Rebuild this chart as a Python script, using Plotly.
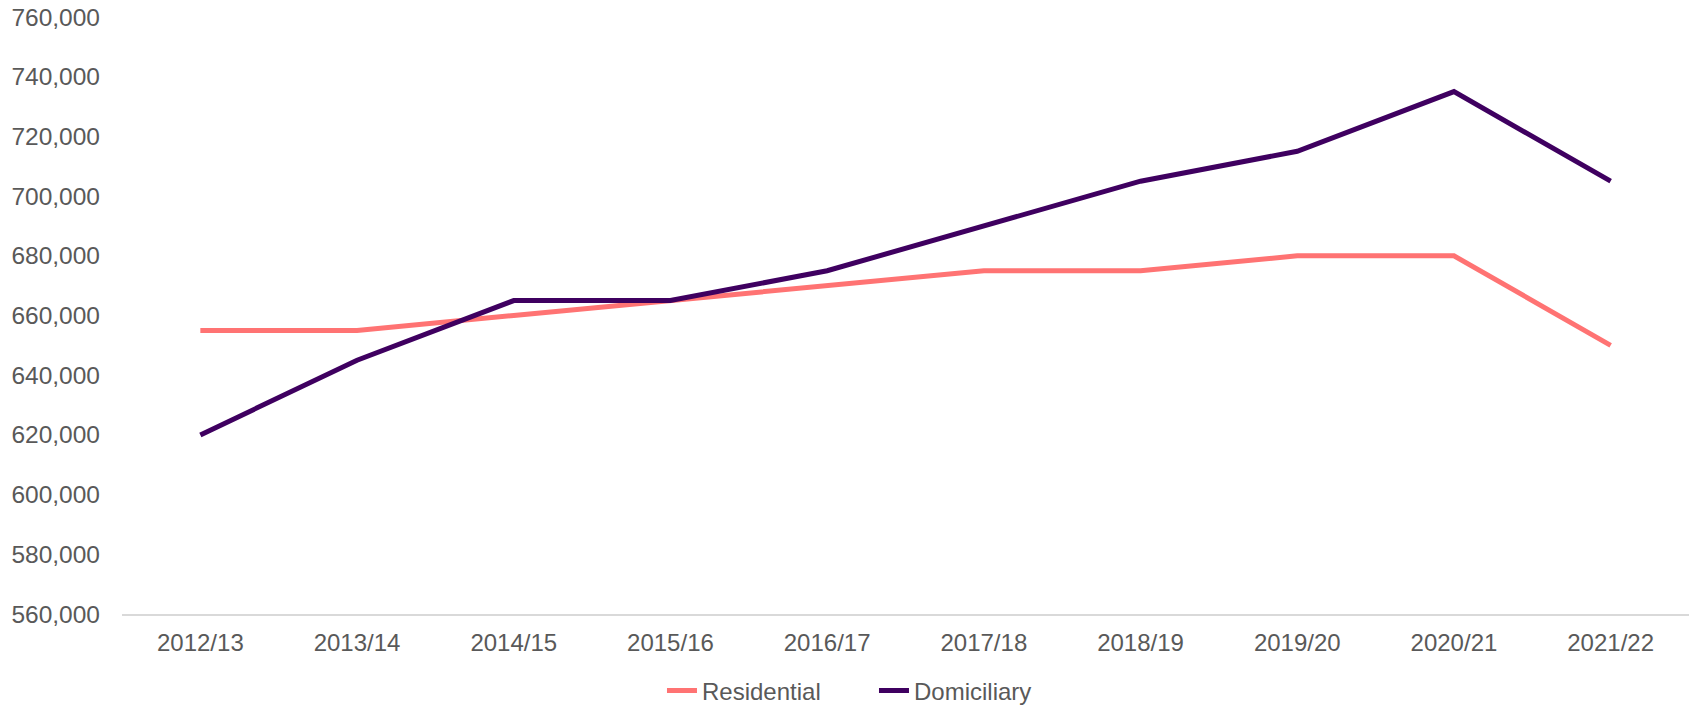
import plotly.graph_objects as go

years = ["2012/13", "2013/14", "2014/15", "2015/16", "2016/17",
         "2017/18", "2018/19", "2019/20", "2020/21", "2021/22"]
residential = [655000, 655000, 660000, 665000, 670000, 675000, 675000, 680000, 680000, 650000]
domiciliary = [620000, 645000, 665000, 665000, 675000, 690000, 705000, 715000, 735000, 705000]

font_family = "Liberation Sans, Arial, sans-serif"
text_color = "#595959"

fig = go.Figure()
fig.add_trace(go.Scatter(x=years, y=residential, mode="lines", name="Residential",
                         line=dict(color="#FF7373", width=5)))
fig.add_trace(go.Scatter(x=years, y=domiciliary, mode="lines", name="Domiciliary",
                         line=dict(color="#3F0060", width=5)))

fig.update_layout(
    width=1694, height=708,
    margin=dict(l=122, r=5, t=17, b=94, autoexpand=False),
    paper_bgcolor="white", plot_bgcolor="white",
    font=dict(family=font_family, size=24, color=text_color),
    showlegend=True,
    legend=dict(orientation="h", xref="paper", yref="paper",
                x=0.3446, xanchor="left", y=-0.129, yanchor="middle",
                entrywidth=167, entrywidthmode="pixels",
                font=dict(size=24, color=text_color), tracegroupgap=0),
    xaxis=dict(type="category", range=[-0.5, 9.5], showgrid=False, showline=True,
               linecolor="#D9D9D9", linewidth=2, ticks="", ticklabelstandoff=6,
               tickfont=dict(size=24, color=text_color), zeroline=False, automargin=False),
    yaxis=dict(range=[560000, 760000], dtick=20000, showgrid=False, showline=False,
               tickformat=",", ticks="", ticklabelstandoff=21, zeroline=False, automargin=False,
               ticklabeloverflow="allow", tickfont=dict(size=24.5, color=text_color)),
)

fig.write_html("out.html", config={"displayModeBar": False},
               post_script="document.body.style.margin='0';")
